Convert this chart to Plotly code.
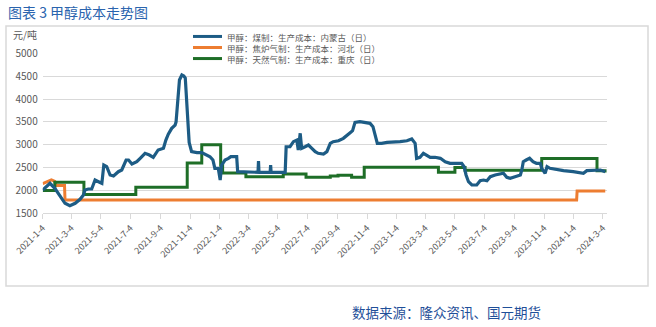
import plotly.graph_objects as go

W, H = 656, 327

# ---- series: 甲醇 煤制 生产成本 内蒙古 (日) ----
coal_dates = [
    "2021-01-04", "2021-01-13", "2021-01-19", "2021-01-29", "2021-02-09", "2021-02-19",
    "2021-03-01", "2021-03-12", "2021-03-22", "2021-03-29", "2021-04-01", "2021-04-08",
    "2021-04-15", "2021-04-22", "2021-04-29", "2021-05-06", "2021-05-10", "2021-05-16",
    "2021-05-23", "2021-05-30", "2021-06-09", "2021-06-16", "2021-06-25", "2021-06-30",
    "2021-07-07", "2021-07-17", "2021-07-24", "2021-08-03", "2021-08-12", "2021-08-20",
    "2021-08-30", "2021-09-10", "2021-09-15", "2021-09-20", "2021-09-27", "2021-10-04",
    "2021-10-06", "2021-10-10", "2021-10-13", "2021-10-18", "2021-10-22", "2021-10-25",
    "2021-10-28", "2021-10-30", "2021-11-02", "2021-11-07", "2021-11-18", "2021-11-28",
    "2021-12-08", "2021-12-15", "2021-12-21", "2021-12-25", "2022-01-01", "2022-01-05",
    "2022-01-08", "2022-01-15", "2022-01-22", "2022-01-27", "2022-02-08", "2022-02-10",
    "2022-03-24", "2022-03-25", "2022-03-26", "2022-04-18", "2022-04-19", "2022-04-20",
    "2022-05-19", "2022-05-21", "2022-05-29", "2022-06-05", "2022-06-12", "2022-06-15",
    "2022-06-19", "2022-06-22", "2022-06-29", "2022-07-06", "2022-07-13", "2022-07-20",
    "2022-07-26", "2022-08-06", "2022-08-13", "2022-08-20", "2022-08-26", "2022-09-06",
    "2022-09-16", "2022-09-23", "2022-09-30", "2022-10-05", "2022-10-10", "2022-10-20",
    "2022-11-03", "2022-11-10", "2022-11-16", "2022-11-20", "2022-11-25", "2022-12-04",
    "2022-12-15", "2023-01-11", "2023-01-25", "2023-02-04", "2023-02-11", "2023-02-14",
    "2023-02-21", "2023-02-28", "2023-03-07", "2023-03-14", "2023-03-24", "2023-04-04",
    "2023-04-14", "2023-04-24", "2023-05-18", "2023-05-23", "2023-05-27", "2023-06-01",
    "2023-06-08", "2023-06-18", "2023-06-25", "2023-07-02", "2023-07-09", "2023-07-16",
    "2023-07-26", "2023-08-05", "2023-08-12", "2023-08-19", "2023-08-26", "2023-09-05",
    "2023-09-16", "2023-09-19", "2023-09-22", "2023-09-28", "2023-10-05", "2023-10-12",
    "2023-10-19", "2023-10-27", "2023-10-30", "2023-11-06", "2023-11-10", "2023-11-16",
    "2023-11-27", "2023-12-14", "2024-01-03", "2024-01-24", "2024-01-31", "2024-02-14",
    "2024-02-28", "2024-03-09",
]
coal_cost = [
    2010, 2100, 2156, 2047, 1863, 1719,
    1666, 1719, 1806, 1900, 2010, 2032,
    2032, 2228, 2191, 2156, 2556, 2519,
    2338, 2316, 2410, 2447, 2666, 2666,
    2578, 2628, 2703, 2812, 2775, 2725,
    2885, 2922, 3103, 3230, 3358, 3431,
    3500, 4125, 4416, 4525, 4503, 4460,
    3800, 3450, 3050, 2848, 2826, 2826,
    2775, 2738, 2666, 2484, 2484, 2228,
    2556, 2666, 2703, 2740, 2740, 2410,
    2397, 2640, 2397, 2397, 2556, 2397,
    2397, 2957, 2960, 3067, 3103, 2885,
    3250, 2922, 2957, 2994, 2922, 2848,
    2812, 2797, 2848, 3031, 3067, 3088,
    3140, 3213, 3263, 3307, 3490, 3504,
    3490, 3468, 3395, 3213, 3031, 3031,
    3053, 3067, 3088, 3125, 3031, 2703,
    2725, 2812, 2775, 2725, 2725, 2703,
    2628, 2594, 2594, 2519, 2338, 2191,
    2119, 2119, 2213, 2228, 2213, 2300,
    2338, 2360, 2375, 2288, 2266, 2300,
    2338, 2447, 2628, 2666, 2703, 2628,
    2594, 2594, 2484, 2375, 2519, 2484,
    2462, 2432, 2410, 2375, 2432, 2432,
    2447, 2410,
]

# ---- series: 甲醇 焦炉气制 生产成本 河北 (日) ----
coke_dates = [
    "2021-01-04", "2021-01-13", "2021-01-22", "2021-01-29", "2021-02-01",
    "2021-02-18", "2021-02-19", "2024-01-10", "2024-01-11", "2024-03-09",
]
coke_cost = [2150, 2195, 2230, 2200, 2110, 2110, 1790, 1790, 1990, 1990]

# ---- series: 甲醇 天然气制 生产成本 重庆 (日), stepwise ----
gas_dates = [
    "2021-01-04", "2021-01-29", "2021-03-30", "2021-07-15", "2021-10-29",
    "2021-11-28", "2022-01-06", "2022-01-10", "2022-02-27", "2022-05-15",
    "2022-07-01", "2022-08-20", "2022-09-05", "2022-10-03", "2022-10-29",
    "2023-03-31", "2023-05-04", "2023-05-25", "2023-10-30", "2024-02-21",
    "2024-03-09",
]
gas_cost = [
    2000, 2180, 1910, 2070, 2600,
    3000, 2550, 2380, 2300, 2360,
    2290, 2316, 2335, 2290, 2510,
    2400, 2500, 2440, 2700, 2430,
    2390,
]

series_names = [
    "甲醇：煤制：生产成本：内蒙古（日）",
    "甲醇：焦炉气制：生产成本：河北（日）",
    "甲醇：天然气制：生产成本：重庆（日）",
]
series_colors = ["#1D5C85", "#ED7D31", "#1E6E27"]

tick_dates = [
    "2021-01-04", "2021-03-04", "2021-05-04", "2021-07-04", "2021-09-04", "2021-11-04",
    "2022-01-04", "2022-03-04", "2022-05-04", "2022-07-04", "2022-09-04", "2022-11-04",
    "2023-01-04", "2023-03-04", "2023-05-04", "2023-07-04", "2023-09-04", "2023-11-04",
    "2024-01-04", "2024-03-04",
]
tick_labels = [
    "2021-1-4", "2021-3-4", "2021-5-4", "2021-7-4", "2021-9-4", "2021-11-4",
    "2022-1-4", "2022-3-4", "2022-5-4", "2022-7-4", "2022-9-4", "2022-11-4",
    "2023-1-4", "2023-3-4", "2023-5-4", "2023-7-4", "2023-9-4", "2023-11-4",
    "2024-1-4", "2024-3-4",
]

FONT = "Noto Sans CJK SC, Microsoft YaHei, sans-serif"
GRID = "#D9D9D9"
TXT = "#595959"


def px_x(v):
    return v / W


def px_y(v):
    return 1 - v / H


fig = go.Figure()
fig.add_trace(go.Scatter(x=coke_dates, y=coke_cost, mode="lines", name=series_names[1],
                         line=dict(color=series_colors[1], width=3)))
fig.add_trace(go.Scatter(x=gas_dates, y=gas_cost, mode="lines", name=series_names[2],
                         line=dict(color=series_colors[2], width=3, shape="hv")))
fig.add_trace(go.Scatter(x=coal_dates, y=coal_cost, mode="lines", name=series_names[0],
                         line=dict(color=series_colors[0], width=3.2)))

fig.update_layout(
    width=W, height=H,
    margin=dict(l=0, r=0, t=0, b=0),
    paper_bgcolor="white", plot_bgcolor="white",
    showlegend=False,
    font=dict(family=FONT, color=TXT, size=10),
    xaxis=dict(
        domain=[px_x(42.7), px_x(606.7)],
        automargin=False,
        type="date",
        range=["2021-01-04", "2024-03-12"],
        tickmode="array", tickvals=tick_dates, ticktext=tick_labels,
        tickangle=-45, tickfont=dict(size=9, color=TXT, family=FONT),
        showgrid=False, showline=True, linecolor=GRID, linewidth=1,
        ticks="outside", ticklen=5, tickcolor=GRID,
        zeroline=False,
    ),
    yaxis=dict(
        domain=[px_y(213.3), px_y(53.3)],
        automargin=False,
        range=[1500, 5000], dtick=500, tick0=1500,
        tickformat="d",
        tickfont=dict(size=10, color=TXT, family=FONT),
        showgrid=True, gridcolor=GRID, gridwidth=1,
        showline=False, zeroline=False, ticks="",
        ticklabelstandoff=4,
    ),
)

shapes = [
    # outer frame
    dict(type="rect", xref="paper", yref="paper",
         x0=px_x(6), x1=px_x(648), y0=px_y(286), y1=px_y(26),
         line=dict(color=GRID, width=1.5), fillcolor="rgba(0,0,0,0)", layer="above"),
]
annotations = [
    dict(text="图表 3 甲醇成本走势图", xref="paper", yref="paper",
         x=px_x(6), y=px_y(12), xanchor="left", yanchor="middle", showarrow=False,
         font=dict(size=14, color="#2A64AE", family=FONT)),
    dict(text="元/吨", xref="paper", yref="paper",
         x=px_x(11), y=px_y(35), xanchor="left", yanchor="middle", showarrow=False,
         font=dict(size=10, color=TXT, family=FONT)),
    dict(text="数据来源：隆众资讯、国元期货", xref="paper", yref="paper",
         x=px_x(350), y=px_y(312), xanchor="left", yanchor="middle", showarrow=False,
         font=dict(size=13.5, color="#1F4F99", family=FONT)),
]

# compact legend: line samples plus one stacked text block
LEG_FONT = 8.5
row_gap = 1.3 * LEG_FONT
legend_mid = 47.5
legend_rows = [legend_mid - row_gap, legend_mid, legend_mid + row_gap]
for color, ry in zip(series_colors, legend_rows):
    shapes.append(dict(type="line", xref="paper", yref="paper",
                       x0=px_x(193), x1=px_x(222), y0=px_y(ry), y1=px_y(ry),
                       line=dict(color=color, width=3)))
annotations.append(dict(text="<br>".join(series_names), xref="paper", yref="paper",
                        x=px_x(225), y=px_y(legend_mid), xanchor="left",
                        yanchor="middle", align="left", showarrow=False,
                        font=dict(size=LEG_FONT, color=TXT, family=FONT)))

fig.update_layout(shapes=shapes, annotations=annotations)
fig.write_html("out.html")
